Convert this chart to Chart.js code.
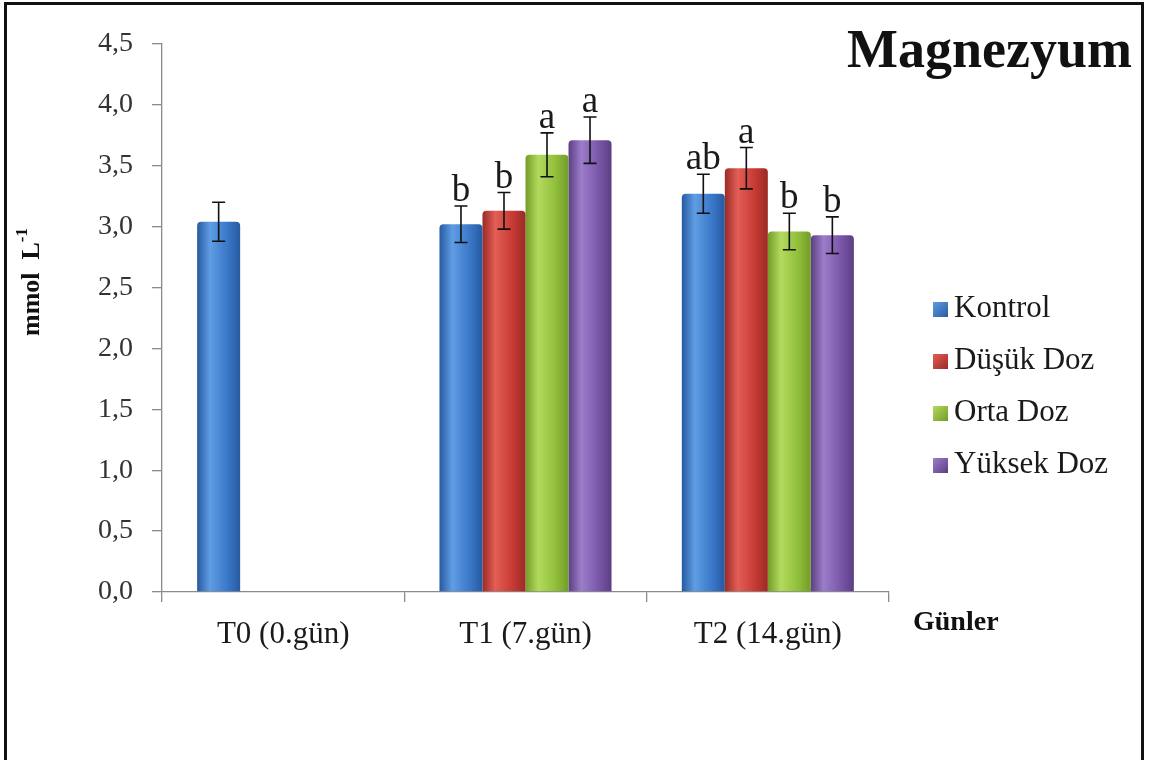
<!DOCTYPE html>
<html>
<head>
<meta charset="utf-8">
<title>Magnezyum</title>
<style>
    body {
        margin: 0;
        background: #fff;
    }
    .wrap {
        position: relative;
        width: 1150px;
        height: 760px;
        overflow: hidden;
        font-family: 'Liberation Serif', 'Times New Roman', serif;
    }
    canvas {
        position: absolute;
        left: 0;
        top: 0;
    }
    .frame {
        position: absolute;
        left: 4px;
        top: 2px;
        width: 1134px;
        height: 820px;
        border: 3px solid #111;
        pointer-events: none;
    }
    .title {
        position: absolute;
        right: 18px;
        top: 22px;
        font-size: 54px;
        line-height: 1;
        font-weight: bold;
        color: #111;
    }
    .legend {
        position: absolute;
        left: 933px;
        top: 281px;
    }
    .legend .item {
        position: relative;
        height: 52px;
        line-height: 52px;
        font-size: 31px;
        color: #1a1a1a;
        padding-left: 21px;
        white-space: nowrap;
    }
    .legend .box {
        position: absolute;
        left: 0;
        top: 21px;
        width: 15px;
        height: 15px;
    }
</style>
</head>
<body>
<div class="wrap">
    <canvas id="chart" width="1150" height="760"></canvas>
    <div class="frame"></div>
    <div class="title">Magnezyum</div>
    <div class="legend" id="legend"></div>
</div>

<script src="https://cdn.jsdelivr.net/npm/chart.js"></script>
<script>
    // sampling days and treatment groups
    const categories = ['T0 (0.gün)', 'T1 (7.gün)', 'T2 (14.gün)'];
    const seriesNames = ['Kontrol', 'Düşük Doz', 'Orta Doz', 'Yüksek Doz'];

    // mean Mg (mmol L-1)
    const kontrol   = [3.04, 3.02, 3.27];
    const dusukDoz  = [null, 3.13, 3.48];
    const ortaDoz   = [null, 3.59, 2.96];
    const yuksekDoz = [null, 3.71, 2.93];

    // standard error
    const kontrolErr   = [0.16, 0.15, 0.16];
    const dusukDozErr  = [null, 0.15, 0.17];
    const ortaDozErr   = [null, 0.18, 0.15];
    const yuksekDozErr = [null, 0.19, 0.15];

    // significance letters
    const kontrolSig   = ['', 'b', 'ab'];
    const dusukDozSig  = ['', 'b', 'a'];
    const ortaDozSig   = ['', 'a', 'b'];
    const yuksekDozSig = ['', 'a', 'b'];

    const yMin = 0, yMax = 4.5, yStep = 0.5;

    const values  = [kontrol, dusukDoz, ortaDoz, yuksekDoz];
    const errors  = [kontrolErr, dusukDozErr, ortaDozErr, yuksekDozErr];
    const letters = [kontrolSig, dusukDozSig, ortaDozSig, yuksekDozSig];

    // dark edge / light highlight for each series
    const palette = [
        { dark: '#275aa0', mid: '#3a78c9', light: '#5f9de4' },
        { dark: '#9c2a25', mid: '#c63b34', light: '#e35e56' },
        { dark: '#729c28', mid: '#91bf3b', light: '#b3da5e' },
        { dark: '#5b3f84', mid: '#7a56a8', light: '#9c7dca' }
    ];

    function barFill(i) {
        return function (c) {
            const el = c.element;
            const p = palette[i];
            if (!el || el.width == null || isNaN(el.x)) return p.mid;
            const g = c.chart.ctx.createLinearGradient(el.x - el.width / 2, 0, el.x + el.width / 2, 0);
            g.addColorStop(0, p.dark);
            g.addColorStop(0.3, p.light);
            g.addColorStop(0.7, p.mid);
            g.addColorStop(1, p.dark);
            return g;
        };
    }

    // legend
    const legendEl = document.getElementById('legend');
    seriesNames.forEach(function (name, i) {
        const item = document.createElement('div');
        item.className = 'item';
        const box = document.createElement('span');
        box.className = 'box';
        box.style.background = 'linear-gradient(135deg, ' + palette[i].light + ', ' + palette[i].dark + ')';
        item.appendChild(box);
        item.appendChild(document.createTextNode(name));
        legendEl.appendChild(item);
    });

    const serif = "'Liberation Serif', 'Times New Roman', serif";

    // error bars, letters and axis titles
    const extras = {
        id: 'extras',
        afterDatasetsDraw(chart) {
            const ctx = chart.ctx;
            const ys = chart.scales.y;
            ctx.save();
            chart.data.datasets.forEach(function (ds, di) {
                const meta = chart.getDatasetMeta(di);
                meta.data.forEach(function (bar, i) {
                    const v = ds.data[i];
                    const e = errors[di][i];
                    if (v == null || e == null) return;
                    const top = ys.getPixelForValue(v + e);
                    const bot = ys.getPixelForValue(v - e);
                    const x = bar.x;
                    ctx.strokeStyle = '#111';
                    ctx.lineWidth = 1.6;
                    ctx.beginPath();
                    ctx.moveTo(x, top); ctx.lineTo(x, bot);
                    ctx.moveTo(x - 6.5, top); ctx.lineTo(x + 6.5, top);
                    ctx.moveTo(x - 6.5, bot); ctx.lineTo(x + 6.5, bot);
                    ctx.stroke();

                    const t = letters[di][i];
                    if (t) {
                        ctx.fillStyle = '#1a1a1a';
                        ctx.font = '37px ' + serif;
                        ctx.textAlign = 'center';
                        ctx.textBaseline = 'alphabetic';
                        ctx.fillText(t, x, top - 5);
                    }
                });
            });
            ctx.restore();
        },
        afterDraw(chart) {
            const ctx = chart.ctx;
            const area = chart.chartArea;
            ctx.save();
            ctx.fillStyle = '#111';

            // x title
            ctx.font = 'bold 28px ' + serif;
            ctx.textAlign = 'left';
            ctx.textBaseline = 'middle';
            ctx.fillText('Günler', area.right + 24, area.bottom + 31);

            // y title with superscript
            ctx.translate(32, 282);
            ctx.rotate(-Math.PI / 2);
            ctx.textBaseline = 'middle';
            const main = 'mmol  L';
            ctx.font = 'bold 26px ' + serif;
            const w1 = ctx.measureText(main).width;
            ctx.font = 'bold 17px ' + serif;
            const w2 = ctx.measureText('-1').width;
            const x0 = -(w1 + w2) / 2;
            ctx.font = 'bold 26px ' + serif;
            ctx.fillText(main, x0, 0);
            ctx.font = 'bold 17px ' + serif;
            ctx.fillText('-1', x0 + w1, -9);
            ctx.restore();
        }
    };

    const datasets = seriesNames.map(function (name, i) {
        return {
            label: name,
            data: values[i],
            backgroundColor: barFill(i),
            borderWidth: 0,
            borderRadius: { topLeft: 4, topRight: 4 },
            borderSkipped: 'bottom',
            barPercentage: 1.0,
            categoryPercentage: 0.71
        };
    });

    const chart = new Chart(document.getElementById('chart'), {
        type: 'bar',
        data: { labels: categories, datasets: datasets },
        options: {
            responsive: false,
            animation: false,
            events: [],
            layout: { padding: { left: 0, top: 44, right: 261, bottom: 0 } },
            plugins: {
                legend: { display: false },
                tooltip: { enabled: false }
            },
            scales: {
                x: {
                    afterFit: function (s) { s.height = 168; },
                    border: { color: '#8a8a8a', width: 1.3 },
                    grid: { drawOnChartArea: false, tickLength: 10, color: '#8a8a8a', lineWidth: 1.3, offset: true },
                    ticks: {
                        color: '#1a1a1a',
                        padding: 14,
                        font: { family: serif, size: 31 }
                    }
                },
                y: {
                    min: yMin,
                    max: yMax,
                    afterFit: function (s) { s.width = 162; },
                    border: { color: '#8a8a8a', width: 1.3 },
                    grid: { drawOnChartArea: false, tickLength: 10, color: '#8a8a8a', lineWidth: 1.3 },
                    ticks: {
                        stepSize: yStep,
                        color: '#333',
                        padding: 19,
                        font: { family: serif, size: 28 },
                        callback: function (v) { return v.toFixed(1).replace('.', ','); }
                    }
                }
            }
        },
        plugins: [extras]
    });

    // second pass so the bar gradients know each bar's position
    chart.update('none');
</script>
</body>
</html>
